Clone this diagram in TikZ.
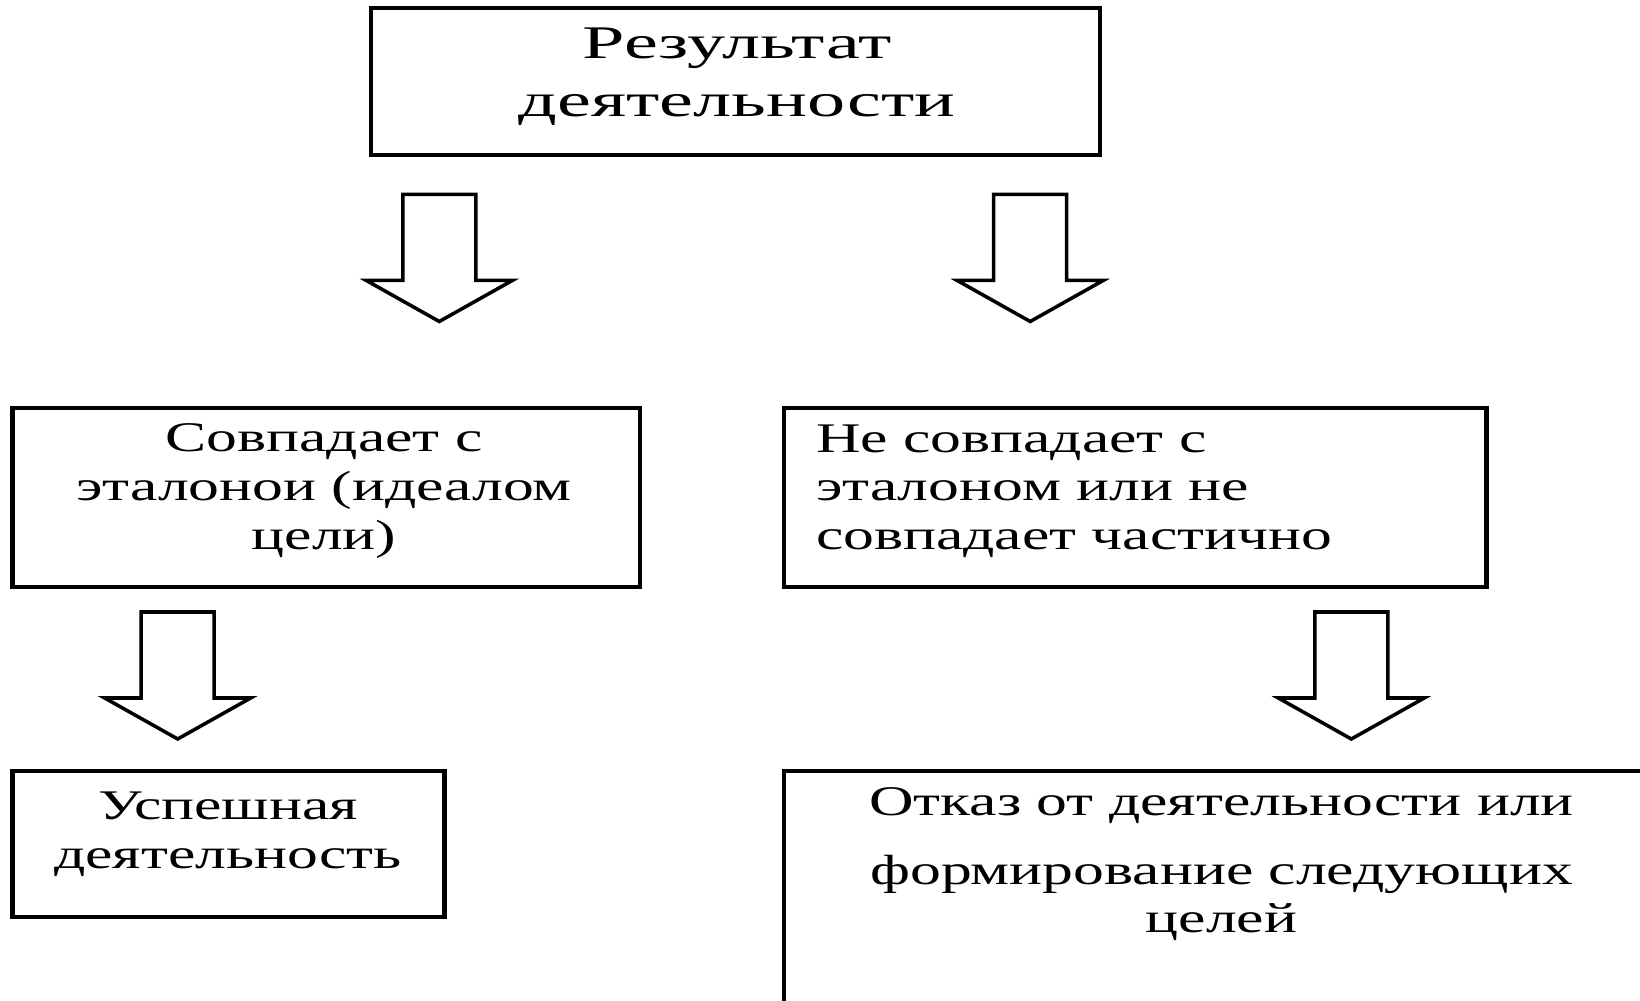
\documentclass[tikz,border=0pt]{standalone}
\usepackage{fontspec}
\setmainfont{Liberation Serif}[FakeStretch=1.46]
\newfontfamily\topfont{Liberation Serif}[FakeStretch=1.63]
\begin{document}
\begin{tikzpicture}[x=0.01cm,y=-0.01cm,
  box/.style={draw=black,line width=1.2pt,inner sep=0pt,outer sep=0pt},
  txt/.style={inner sep=0pt,outer sep=0pt,font=\fontsize{12}{13.8}\selectfont},
  arrowline/.style={draw=black,line width=1pt,line join=miter,fill=white},
  blockarrow/.pic={\path[arrowline] (-36.5,0) -- (36.5,0) -- (36.5,86) -- (73,86) -- (0,127) -- (-73,86) -- (-36.5,86) -- cycle;}]
\useasboundingbox (0,0) rectangle (1640,1001);
\clip (0,0) rectangle (1640,1001);
% boxes
\node[box,minimum width=7.29cm,minimum height=1.464cm] (top) at (735.5,81.6) {};
\node[box,minimum width=6.274cm,minimum height=1.787cm] (match) at (326.3,497.4) {};
\node[box,minimum width=7.018cm,minimum height=1.787cm] (nomatch) at (1135.3,497.4) {};
\node[box,minimum width=4.319cm,minimum height=1.465cm] (success) at (228.5,844) {};
\node[box,minimum width=9.156cm,minimum height=2.892cm] (refuse) at (1242.2,915.4) {};
% texts
\node[txt,align=center,font=\topfont\fontsize{13.3}{16.4}\selectfont] (ttop) at (737,77) {Результат\\деятельности};
\node[txt,align=center] (tmatch) at (324,491) {Совпадает с\\эталонои (идеалом\\цели)};
\node[txt,align=left,anchor=west] (tnomatch) at (816,491) {Не совпадает с\\эталоном или не\\совпадает частично};
\node[txt,align=center] (tsuccess) at (228,834.5) {Успешная\\деятельность};
\node[txt,align=center] (trefuse) at (1221.6,864.5) {Отказ от деятельности или\\[5.7pt]формирование следующих\\целей};
% block arrows
\pic (a1) at (439.3,194.5) {blockarrow};
\pic (a2) at (1030.2,194.5) {blockarrow};
\pic (a3) at (177.7,612) {blockarrow};
\pic (a4) at (1351.3,612) {blockarrow};
\end{tikzpicture}
\end{document}
